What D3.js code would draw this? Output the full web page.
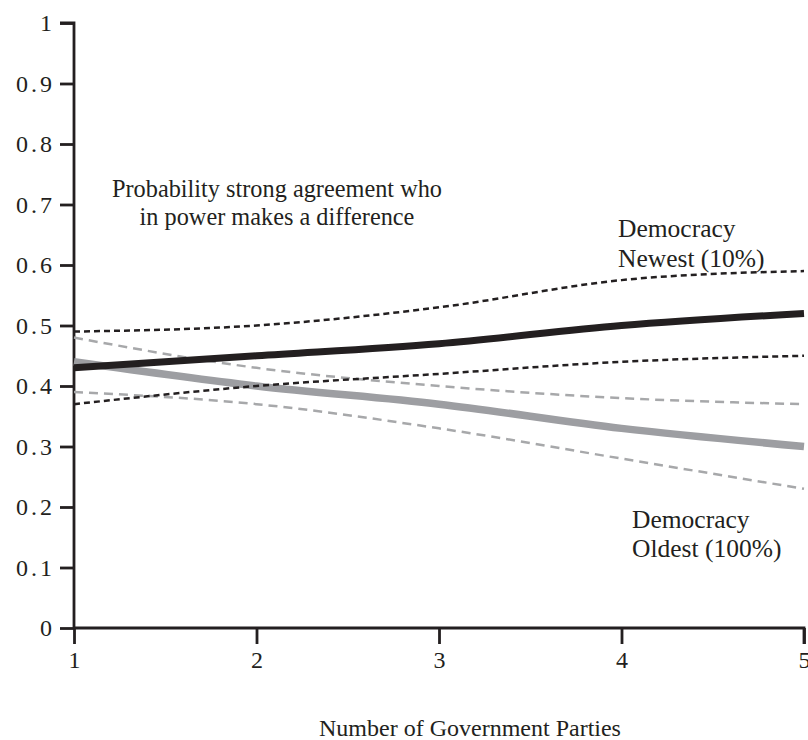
<!DOCTYPE html>
<html><head><meta charset="utf-8">
<script src="https://cdn.jsdelivr.net/npm/d3@7"></script>
<style>body{margin:0;background:#fff}svg{display:block}text{font-family:"Liberation Serif","Times New Roman",serif;fill:#231f20}</style>
</head><body><svg id="c" width="808" height="740"></svg>
<script>
const parties = [1, 2, 3, 4, 5];
const newestMean  = [0.43, 0.45, 0.47, 0.50, 0.52];
const newestUpper = [0.49, 0.50, 0.53, 0.575, 0.59];
const newestLower = [0.37, 0.40, 0.42, 0.44, 0.45];
const oldestMean  = [0.44, 0.40, 0.37, 0.33, 0.30];
const oldestUpper = [0.48, 0.43, 0.40, 0.38, 0.37];
const oldestLower = [0.39, 0.37, 0.33, 0.28, 0.23];
const yTicks = [0, 0.1, 0.2, 0.3, 0.4, 0.5, 0.6, 0.7, 0.8, 0.9, 1];
const xTitle = "Number of Government Parties";
const noteLines = ["Probability strong agreement who", "in power makes a difference"];
const newestLabel = ["Democracy", "Newest (10%)"];
const oldestLabel = ["Democracy", "Oldest (100%)"];

const ink = "#231f20";
const svg = d3.select("#c");
const x = d3.scaleLinear().domain([1, 5]).range([74, 804]);
const y = d3.scaleLinear().domain([0, 1]).range([628, 23]);

const yAxis = svg.append("g").attr("transform", "translate(74,0)")
  .call(d3.axisLeft(y).tickValues(yTicks).tickSize(14).tickPadding(5)
    .tickFormat(d => d === 0 ? "0" : d === 1 ? "1" : d3.format(".1f")(d)));
const xAxis = svg.append("g").attr("transform", "translate(0,628)")
  .call(d3.axisBottom(x).tickValues(parties).tickSize(16).tickPadding(7).tickFormat(d3.format("d")));
[yAxis, xAxis].forEach(g => {
  g.select(".domain").attr("stroke", ink).attr("stroke-width", 2.8);
  g.selectAll(".tick line").attr("stroke", ink).attr("stroke-width", 2.8);
  g.selectAll(".tick text").style("font-size", "24px").style("fill", ink)
   .style("font-family", "'Liberation Serif',serif");
});
yAxis.selectAll(".tick text").style("letter-spacing", "3px");
yAxis.select(".domain").attr("d", `M0,${y(0)}V${y(1)}H-14`);
xAxis.select(".domain").attr("d", `M${x(1)},0H${x(5)}V16`);

const line = d3.line().x((d, i) => x(parties[i])).y(d => y(d)).curve(d3.curveMonotoneX);
const series = [
  {v: oldestUpper, c: "#a7a8aa", w: 2.5, dash: "9,6"},
  {v: oldestLower, c: "#a7a8aa", w: 2.5, dash: "9,6"},
  {v: oldestMean, c: "#9d9ea2", w: 7.5, dash: null},
  {v: newestUpper, c: ink, w: 2.5, dash: "6,4"},
  {v: newestLower, c: ink, w: 2.5, dash: "6,4"},
  {v: newestMean, c: ink, w: 7, dash: null}
];
series.forEach(s => {
  svg.append("path").datum(s.v).attr("d", line).attr("fill", "none")
    .attr("stroke", s.c).attr("stroke-width", s.w)
    .attr("stroke-dasharray", s.dash);
});

svg.append("text").attr("x", 470).attr("y", 736).attr("text-anchor", "middle").style("font-size", "24px").text(xTitle);
noteLines.forEach((t, i) => svg.append("text").attr("x", 277).attr("y", 197 + i * 28).attr("text-anchor", "middle").style("font-size", "24.3px").text(t));
newestLabel.forEach((t, i) => svg.append("text").attr("x", 618).attr("y", 237 + i * 30).style("font-size", "25.5px").text(t));
oldestLabel.forEach((t, i) => svg.append("text").attr("x", 632).attr("y", 528 + i * 29).style("font-size", "25.5px").text(t));
</script></body></html>
